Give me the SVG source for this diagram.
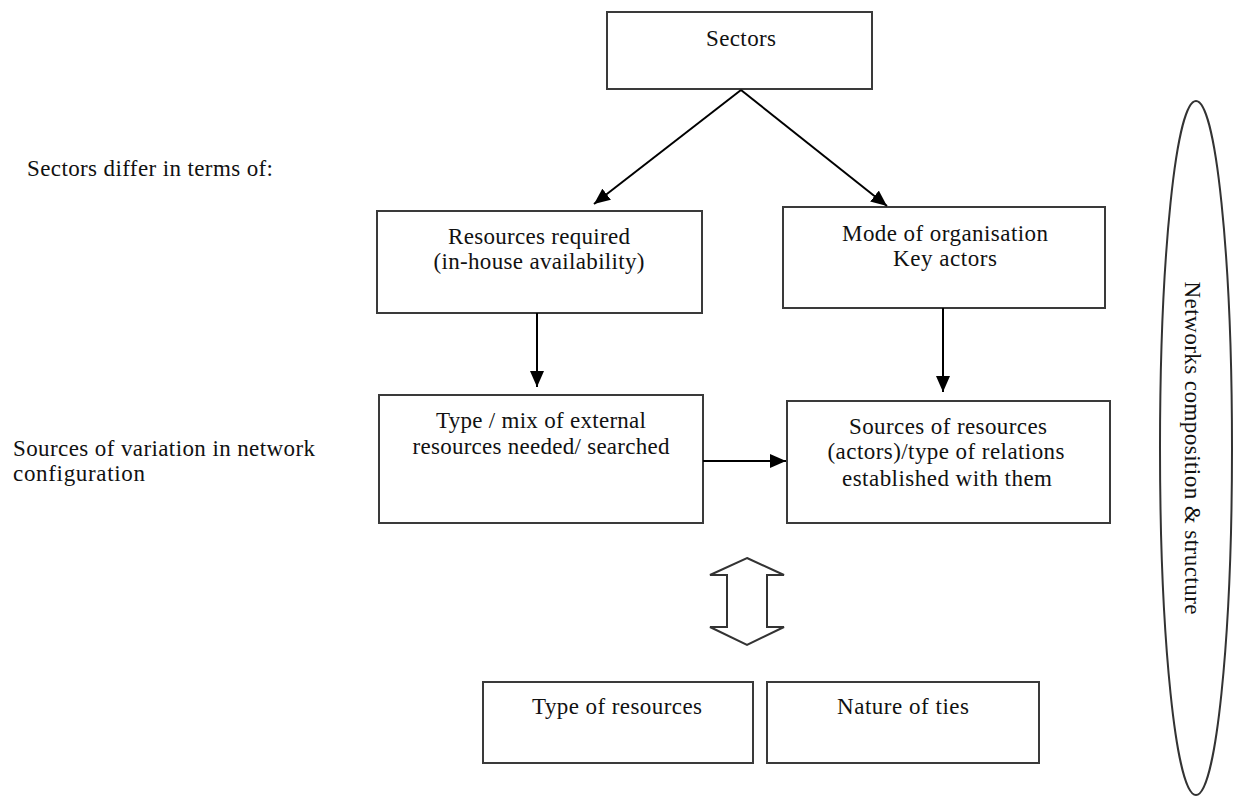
<svg xmlns="http://www.w3.org/2000/svg" width="1235" height="799" viewBox="0 0 1235 799">
<style>
  .box { fill: #ffffff; stroke: #3a3a3a; stroke-width: 2; }
  .t { font-family: "Liberation Serif", "Times New Roman", serif; font-size: 23px; fill: #111; }
  .c { text-anchor: middle; }
  .line { stroke: #000; stroke-width: 2; fill: none; }
</style>
<defs>
  <marker id="ah" viewBox="0 0 10 10" refX="10" refY="5" markerWidth="16" markerHeight="14" markerUnits="userSpaceOnUse" orient="auto" preserveAspectRatio="none">
    <path d="M0,0 L10,5 L0,10 z" fill="#000"/>
  </marker>
</defs>
<rect width="1235" height="799" fill="#fff"/>

<g id="label-sectors-differ">
  <text class="t" x="27" y="176" textLength="246" lengthAdjust="spacing">Sectors differ in terms of:</text>
</g>
<g id="label-sources-variation">
  <text class="t" x="13" y="456" textLength="302" lengthAdjust="spacing">Sources of variation in network</text>
  <text class="t" x="13" y="481" textLength="132" lengthAdjust="spacing">configuration</text>
</g>

<g id="node-sectors">
  <rect class="box" x="607" y="12" width="265" height="77"/>
  <text class="t c" x="741" y="46" textLength="70" lengthAdjust="spacing">Sectors</text>
</g>
<g id="node-resources-required">
  <rect class="box" x="377" y="211" width="325" height="102"/>
  <text class="t c" x="539" y="244" textLength="182" lengthAdjust="spacing">Resources required</text>
  <text class="t c" x="539" y="269" textLength="211" lengthAdjust="spacing">(in-house availability)</text>
</g>
<g id="node-mode">
  <rect class="box" x="783" y="207" width="322" height="101"/>
  <text class="t c" x="945" y="241" textLength="206" lengthAdjust="spacing">Mode of organisation</text>
  <text class="t c" x="945" y="266" textLength="104" lengthAdjust="spacing">Key actors</text>
</g>
<g id="node-type-mix">
  <rect class="box" x="379" y="395" width="324" height="128"/>
  <text class="t c" x="541" y="428" textLength="210" lengthAdjust="spacing">Type / mix of external</text>
  <text class="t c" x="541" y="454" textLength="257" lengthAdjust="spacing">resources needed/ searched</text>
</g>
<g id="node-sources-resources">
  <rect class="box" x="787" y="401" width="323" height="122"/>
  <text class="t c" x="948" y="434" textLength="198" lengthAdjust="spacing">Sources of resources</text>
  <text class="t c" x="946" y="459" textLength="237" lengthAdjust="spacing">(actors)/type of relations</text>
  <text class="t c" x="947" y="486" textLength="210" lengthAdjust="spacing">established with them</text>
</g>
<g id="node-type-resources">
  <rect class="box" x="483" y="682" width="270" height="81"/>
  <text class="t c" x="617" y="714" textLength="170" lengthAdjust="spacing">Type of resources</text>
</g>
<g id="node-nature-ties">
  <rect class="box" x="767" y="682" width="272" height="81"/>
  <text class="t c" x="903" y="714" textLength="132" lengthAdjust="spacing">Nature of ties</text>
</g>
<g id="node-networks">
  <ellipse cx="1196" cy="448" rx="36" ry="347" fill="none" stroke="#333" stroke-width="2"/>
  <text class="t c" transform="translate(1185,448) rotate(90)" x="0" y="0" textLength="333" lengthAdjust="spacing">Networks composition &amp; structure</text>
</g>

<g id="connectors">
  <line class="line" x1="741" y1="90" x2="594" y2="204" marker-end="url(#ah)"/>
  <line class="line" x1="741" y1="90" x2="887" y2="206" marker-end="url(#ah)"/>
  <line class="line" x1="537" y1="313" x2="537" y2="387" marker-end="url(#ah)"/>
  <line class="line" x1="943" y1="308" x2="943" y2="392" marker-end="url(#ah)"/>
  <line class="line" x1="703" y1="461" x2="786" y2="461" marker-end="url(#ah)"/>
  <polygon points="747,558 784,575 767,575 767,627 784,627 747,645 710,627 727,627 727,575 710,575" fill="#fff" stroke="#333" stroke-width="2" stroke-linejoin="miter"/>
</g>
</svg>
